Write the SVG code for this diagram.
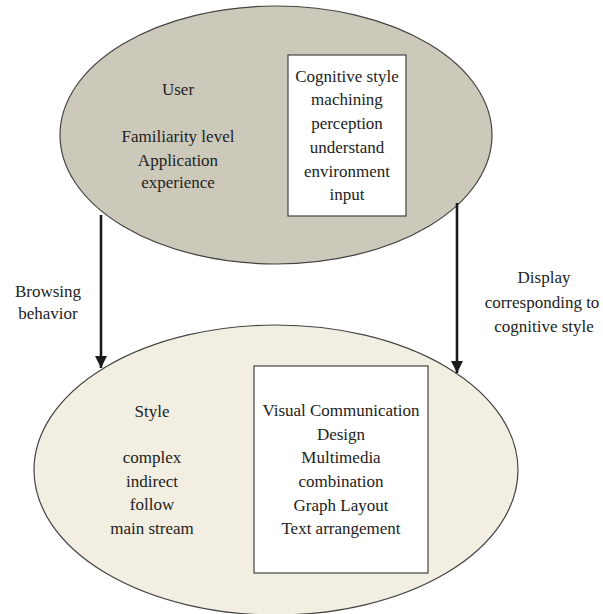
<svg xmlns="http://www.w3.org/2000/svg" width="603" height="614" viewBox="0 0 603 614">
<style>
text{font-family:"Liberation Serif","Times New Roman",serif;font-size:17px;fill:#222;text-anchor:middle}
.ell{stroke:#444;stroke-width:1.2}
.box{fill:#fff;stroke:#444;stroke-width:1.2}
.conn{stroke:#1a1a1a;stroke-width:2.6;fill:none}
</style>
<defs>
<marker id="ah" markerWidth="12" markerHeight="14" refX="12" refY="6" orient="auto" markerUnits="userSpaceOnUse" viewBox="0 0 12 12">
<path d="M0,0 L12,6 L0,12 Z" fill="#1a1a1a"/>
</marker>
</defs>
<rect width="603" height="614" fill="#fff"/>
<g id="bottom">
<ellipse class="ell" cx="276" cy="470" rx="242" ry="145" fill="#f2eee1"/>
<text x="152" y="417">Style</text>
<text x="152" y="463">complex</text>
<text x="152" y="487">indirect</text>
<text x="152" y="510">follow</text>
<text x="152" y="534">main stream</text>
<rect class="box" x="254" y="366" width="174" height="207"/>
<text x="341" y="416">Visual Communication</text>
<text x="341" y="440">Design</text>
<text x="341" y="463">Multimedia</text>
<text x="341" y="487">combination</text>
<text x="341" y="511">Graph Layout</text>
<text x="341" y="534">Text arrangement</text>
</g>
<g id="top">
<ellipse class="ell" cx="276" cy="135" rx="216" ry="129" fill="#cdc9ba"/>
<text x="178" y="95">User</text>
<text x="178" y="142">Familiarity level</text>
<text x="178" y="166">Application</text>
<text x="178" y="188">experience</text>
<rect class="box" x="288" y="55" width="118" height="161"/>
<text x="347" y="82">Cognitive style</text>
<text x="347" y="105">machining</text>
<text x="347" y="129">perception</text>
<text x="347" y="153">understand</text>
<text x="347" y="177">environment</text>
<text x="347" y="200">input</text>
</g>
<g id="connectors">
<line class="conn" x1="101" y1="215" x2="101" y2="368" marker-end="url(#ah)"/>
<line class="conn" x1="457" y1="203" x2="457" y2="373" marker-end="url(#ah)"/>
</g>
<g id="labels">
<text x="48" y="297">Browsing</text>
<text x="48" y="319">behavior</text>
<text x="544" y="283">Display</text>
<text x="542" y="308">corresponding to</text>
<text x="544" y="332">cognitive style</text>
</g>
</svg>
